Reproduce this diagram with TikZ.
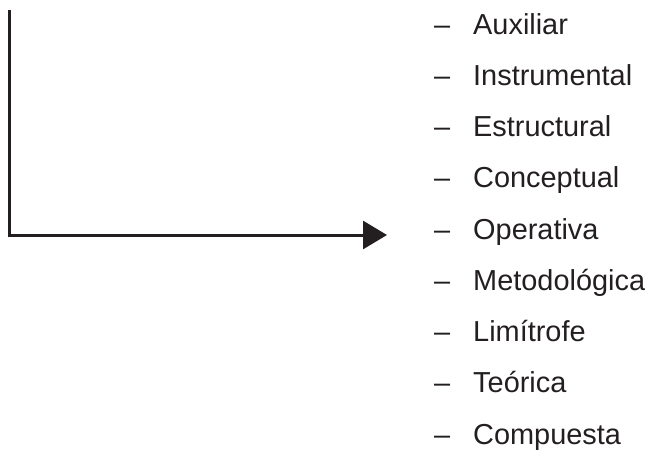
\documentclass[tikz,border=0pt]{standalone}
\usepackage{fontspec}
\setmainfont{Liberation Sans}
\usetikzlibrary{arrows.meta}
\definecolor{ink}{RGB}{35,31,32}
\tikzset{
  item/.style={anchor=base west, inner sep=0pt, text=ink, font=\fontsize{28.9}{34}\selectfont},
  conn/.style={draw=ink, line width=3pt, -{Triangle[length=24pt,width=28pt]}}
}
\begin{document}
\begin{tikzpicture}[x=1pt,y=-1pt]
\useasboundingbox (0,0) rectangle (645,455);
\coordinate (top) at (9,10);
\coordinate (tip) at (387,235);
\draw[conn] (top) |- (tip);
\foreach \n/\w [count=\i from 0] in {a/Auxiliar,b/Instrumental,c/Estructural,d/Conceptual,e/Operativa,f/Metodológica,g/Limítrofe,h/Teórica,k/Compuesta}{
  \node[item] (dash\n) at (434,34+51.25*\i) {–};
  \node[item] (word\n) at (473,34+51.25*\i) {\w};
}
\end{tikzpicture}
\end{document}
